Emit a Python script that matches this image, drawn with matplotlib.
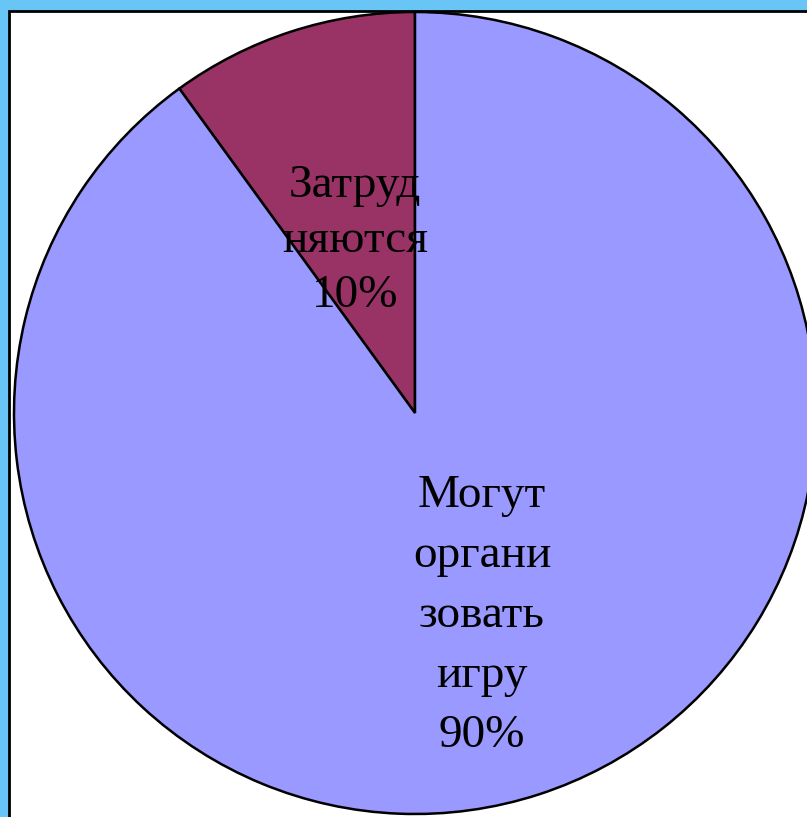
import matplotlib.pyplot as plt
from matplotlib.patches import Rectangle

labels = ['Затруд\nняются', 'Могут\nоргани\nзовать\nигру']
values = [10, 90]
colors = ['#993366', '#9999FF']
label_pos = [(-0.15, 0.43), (0.167, -0.505)]
label_spacing = [1.38, 1.54]

W, H = 807, 817
fig = plt.figure(figsize=(W / 100, H / 100), dpi=100)
fig.patch.set_facecolor('#68C5F6')

# white slide box with black border (behind the pie axes)
fig.patches.append(Rectangle((9 / W, -0.1), 1.2, (H - 11) / H + 0.1,
                             transform=fig.transFigure, facecolor='white',
                             edgecolor='black', linewidth=2, zorder=-1))

cx, cy, r = 415, 413, 401
ax = fig.add_axes([(cx - r) / W, (H - cy - r) / H, 2 * r / W, 2 * r / H])
ax.set_facecolor('none')
ax.pie(values, colors=colors, startangle=90, counterclock=True,
       wedgeprops=dict(edgecolor='black', linewidth=1.8))
ax.set_xlim(-1, 1)
ax.set_ylim(-1, 1)

for lab, v, (x, y), ls in zip(labels, values, label_pos, label_spacing):
    ax.text(x, y, f'{lab}\n{v}%', ha='center', va='center',
            fontsize=34, family='Liberation Serif', linespacing=ls)

fig.savefig('out.png', dpi=100, facecolor=fig.get_facecolor())
